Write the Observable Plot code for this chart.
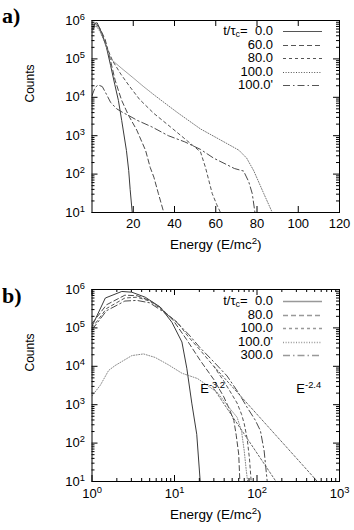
<!DOCTYPE html>
<html><head><meta charset="utf-8">
<script src="https://cdn.jsdelivr.net/npm/d3@7"></script>
<script src="https://cdn.jsdelivr.net/npm/@observablehq/plot@0.6"></script>
<style>
body{margin:0;background:#fff;}
#wrap{position:relative;width:354px;height:530px;font-family:"Liberation Sans",Arial,sans-serif;color:#000;}
.panel{position:absolute;left:0;}
.tag{position:absolute;font-family:"Liberation Serif","DejaVu Serif",serif;font-weight:bold;font-size:22px;line-height:1;}
.legend{position:absolute;font-size:13px;line-height:13.6px;}
.legend .row{position:relative;height:13.6px;white-space:nowrap;}
.legend .txt{position:absolute;right:0;width:120px;text-align:right;}
.legend svg{position:absolute;}
sub{font-size:9px;vertical-align:-2px;line-height:0;}
</style>
</head><body>
<div id="wrap">
  <div class="panel" id="pa" style="top:0"></div>
  <div class="panel" id="pb" style="top:260px"></div>
  <div class="tag" style="left:2px;top:5px">a)</div>
  <div class="tag" style="left:2px;top:285px">b)</div>
</div>
<script>
// ---------- Panel a data (linear energy axis) ----------
const aNames = ["0.0", "60.0", "80.0", "100.0", "100.0'"];
const aE0 = [0.5, 1.5, 2.5, 4.6, 7, 9, 11, 12.8, 14.4, 16.7, 17.8, 18.5, 19.5];
const aC0 = [6.6e5, 8.5e5, 8.7e5, 4.9e5, 2.0e5, 6.8e4, 2.2e4, 8.3e3, 2.5e3, 410, 123, 40, 10];
const aE1 = [0.5, 1.5, 2.5, 4, 6.4, 9, 11.2, 13, 14.4, 17.7, 21.7, 26, 28.2, 30, 32.2, 34.8];
const aC1 = [6.3e5, 8.3e5, 7.9e5, 6.0e5, 3.2e5, 8.9e4, 2.8e4, 1.4e4, 8.3e3, 3.4e3, 1.4e3, 410, 150, 83, 31, 10];
const aE2 = [0.5, 1.5, 2.5, 4, 6, 8, 10, 14, 18, 23, 30, 38, 45, 52.6, 55, 58.3, 60.5, 62.3];
const aC2 = [6.0e5, 7.9e5, 7.6e5, 5.6e5, 3.2e5, 1.6e5, 8.9e4, 4.0e4, 2.0e4, 8.9e3, 3.8e3, 1.7e3, 830, 380, 150, 31, 16, 10];
const aE3 = [0.5, 1.5, 2.5, 4, 6, 9, 14.5, 20, 25, 30.6, 38, 42, 52.6, 62, 71.2, 75, 78.4, 83.3, 87.4];
const aC3 = [5.6e5, 7.1e5, 6.8e5, 5.0e5, 2.8e5, 1.0e5, 5.6e4, 3.2e4, 1.9e4, 1.1e4, 5.5e3, 3.8e3, 1.5e3, 790, 420, 260, 123, 31, 10];
const aE4 = [0, 1.5, 3, 5, 7, 9, 12, 15, 18, 22, 29, 37, 45, 52.6, 59, 65, 69, 73.5, 76, 77.7, 79];
const aC4 = [1.1e4, 1.8e4, 2.1e4, 1.9e4, 1.2e4, 7.4e3, 5.0e3, 4.0e3, 3.3e3, 2.5e3, 1.7e3, 1.0e3, 690, 440, 260, 180, 140, 120, 63, 31, 10];

// ---------- Panel b data (log energy axis) ----------
const bNames = ["0.0", "80.0", "100.0", "100.0'", "300.0"];
const bE0 = [1.0, 1.45, 2.3, 3.04, 4.42, 6.7, 9.3, 12.3, 14.1, 16.2, 18.6, 20.5];
const bC0 = [1.1e5, 6.0e5, 8.9e5, 8.5e5, 6.3e5, 3.5e5, 1.4e5, 4.3e4, 8.9e3, 1.1e3, 170, 10];
const bE1 = [1.0, 1.5, 2.5, 3.5, 5, 7, 9.8, 14, 20.6, 30, 39.6, 46, 52.4, 56, 60, 62];
const bC1 = [1.3e5, 4.0e5, 7.1e5, 6.9e5, 5.2e5, 3.2e5, 1.5e5, 5.0e4, 1.4e4, 4.5e3, 1.6e3, 790, 390, 160, 52, 10];
const bE2 = [1.0, 1.5, 2.5, 3.5, 5, 7, 10.8, 15, 20, 29.9, 40, 57.4, 65, 70, 76, 81, 85];
const bC2 = [1.0e5, 3.2e5, 6.0e5, 6.3e5, 5.0e5, 3.0e5, 1.4e5, 5.6e4, 2.8e4, 1.0e4, 4.0e3, 1.1e3, 560, 320, 130, 40, 10];
const bE3 = [1.0, 1.26, 1.59, 1.91, 3.04, 4.21, 5.83, 8.4, 12.3, 19, 33, 47.7, 57.4, 65, 70, 74, 77];
const bC3 = [1.7e3, 3.2e3, 7.8e3, 1.05e4, 1.9e4, 2.1e4, 1.7e4, 1.1e4, 6.6e3, 4.8e3, 2.1e3, 760, 470, 200, 63, 20, 10];
const bE4 = [1.0, 1.5, 2.5, 3.5, 5, 7, 10, 15, 20, 30, 43.4, 60, 76, 95, 110, 122, 133];
const bC4 = [8.9e4, 2.8e5, 5.0e5, 5.2e5, 4.5e5, 2.8e5, 1.6e5, 6.6e4, 3.2e4, 1.3e4, 5.6e3, 2.0e3, 850, 400, 210, 63, 10];
// power-law guide lines (end points)
const fitNames = ["E^{-3.2}", "E^{-2.4}"];
const fitE = [[30, 170], [30, 540]];
const fitC = [[2.6e3, 10], [1.0e4, 10]];
const fitLabelE = [20.5, 300];
const fitLabelC = [2.6e3, 2.6e3];

// ---------- tick labels ----------
const yDecades = [10, 100, 1e3, 1e4, 1e5, 1e6];
const yTickText = ["10^{1}", "10^{2}", "10^{3}", "10^{4}", "10^{5}", "10^{6}"];
const aXTicks = [20, 40, 60, 80, 100, 120];
const bXDecades = [1, 10, 100, 1000];
const bXTickText = ["10^{0}", "10^{1}", "10^{2}", "10^{3}"];
const legendTitle = "t/τ";

const W = 354, ML = 91.5, MR = 15, PW = W - ML - MR, PH = 192;
const styles = [
  {stroke: "#3a3a3a", dash: null, w: 1},
  {stroke: "#4a4a4a", dash: "5,3", w: 1},
  {stroke: "#555", dash: "3,3", w: 1},
  {stroke: "#777", dash: "1,1.6", w: 1},
  {stroke: "#4a4a4a", dash: "7,3,1.5,3", w: 1}
];
const stylesB = [
  {stroke: "#3a3a3a", dash: null, w: 1},
  {stroke: "#4a4a4a", dash: "5,3", w: 1},
  {stroke: "#555", dash: "3,3", w: 1},
  {stroke: "#888", dash: "1,1.6", w: 1},
  {stroke: "#4a4a4a", dash: "7,3,1.5,3", w: 1}
];

function minorLog(decades) {
  const out = [];
  for (let i = 0; i < decades.length - 1; i++) for (let k = 2; k <= 9; k++) out.push(decades[i] * k);
  return out;
}
function rows(E, C) { return E.map((e, i) => ({E: e, C: C[i]})); }
function tickMarksY(vals, len) {
  return [
    Plot.tickY(vals, {y: d => d, insetRight: PW - len, stroke: "#000"}),
    Plot.tickY(vals, {y: d => d, insetLeft: PW - len, stroke: "#000"})
  ];
}
function tickMarksX(vals, len) {
  return [
    Plot.tickX(vals, {x: d => d, insetTop: PH - len, stroke: "#000"}),
    Plot.tickX(vals, {x: d => d, insetBottom: PH - len, stroke: "#000"})
  ];
}
function supify(svg) {
  const ns = "http://www.w3.org/2000/svg";
  svg.querySelectorAll("text").forEach(t => {
    const s = t.textContent;
    if (s.indexOf("^{") < 0) return;
    t.textContent = "";
    const re = /\^\{([^}]*)\}/g;
    let last = 0, m, shifted = false;
    while ((m = re.exec(s))) {
      if (m.index > last) {
        const a = document.createElementNS(ns, "tspan");
        a.textContent = s.slice(last, m.index);
        if (shifted) { a.setAttribute("dy", "5"); shifted = false; }
        t.appendChild(a);
      }
      const b = document.createElementNS(ns, "tspan");
      b.textContent = m[1];
      b.setAttribute("dy", "-5");
      b.setAttribute("font-size", "0.72em");
      t.appendChild(b);
      shifted = true;
      last = re.lastIndex;
    }
    if (last < s.length) {
      const c = document.createElementNS(ns, "tspan");
      c.textContent = s.slice(last);
      if (shifted) c.setAttribute("dy", "5");
      t.appendChild(c);
    }
  });
}
const yFmt = d => yTickText[yDecades.indexOf(d)];
const bxFmt = d => bXTickText[bXDecades.indexOf(d)];

// ---------- Panel a ----------
const aSeries = [[aE0, aC0], [aE1, aC1], [aE2, aC2], [aE3, aC3], [aE4, aC4]];
const plotA = Plot.plot({
  width: W, height: 260,
  marginLeft: ML, marginRight: MR, marginTop: 20, marginBottom: 48,
  style: {fontFamily: "Liberation Sans, Arial, sans-serif", fontSize: "13px", background: "#fff", color: "#000"},
  x: {domain: [0, 120], axis: null},
  y: {type: "log", domain: [10, 1e6], axis: null},
  marks: [
    ...aSeries.map(([E, C], i) => Plot.line(rows(E, C), {x: "E", y: "C", stroke: styles[i].stroke, strokeWidth: styles[i].w, strokeDasharray: styles[i].dash, clip: true})),
    ...tickMarksY(yDecades, 6),
    ...tickMarksY(minorLog(yDecades), 3),
    ...tickMarksX(aXTicks, 6),
    Plot.text(yDecades, {y: d => d, frameAnchor: "left", dx: -7, textAnchor: "end", text: yFmt, fontSize: 13}),
    Plot.text(aXTicks, {x: d => d, frameAnchor: "bottom", dy: 15, text: d => String(d), fontSize: 13}),
    Plot.text(["Energy (E/mc^{2})"], {frameAnchor: "bottom", dy: 36, fontSize: 13.5, text: d => d}),
    Plot.text(["Counts"], {frameAnchor: "left", dx: -62, dy: -14, rotate: -90, fontSize: 12, text: d => d}),
    Plot.frame({stroke: "#000"})
  ]
});
supify(plotA);
document.getElementById("pa").appendChild(plotA);

// ---------- Panel b ----------
const bSeries = [[bE0, bC0], [bE1, bC1], [bE2, bC2], [bE3, bC3], [bE4, bC4]];
const plotB = Plot.plot({
  width: W, height: 270,
  marginLeft: ML, marginRight: MR, marginTop: 29, marginBottom: 49,
  style: {fontFamily: "Liberation Sans, Arial, sans-serif", fontSize: "13px", background: "#fff", color: "#000"},
  x: {type: "log", domain: [1, 1000], axis: null},
  y: {type: "log", domain: [10, 1e6], axis: null},
  marks: [
    ...bSeries.map(([E, C], i) => Plot.line(rows(E, C), {x: "E", y: "C", stroke: stylesB[i].stroke, strokeWidth: stylesB[i].w, strokeDasharray: stylesB[i].dash, clip: true})),
    ...fitE.map((E, i) => Plot.line(rows(E, fitC[i]), {x: "E", y: "C", stroke: "#555", strokeWidth: 0.9, strokeDasharray: "2,2", clip: true})),
    Plot.text(fitNames, {x: (d, i) => fitLabelE[i], y: (d, i) => fitLabelC[i], text: d => d, textAnchor: "start", fontSize: 13}),
    ...tickMarksY(yDecades, 6),
    ...tickMarksY(minorLog(yDecades), 3),
    ...tickMarksX(bXDecades, 6),
    ...tickMarksX(minorLog(bXDecades), 3),
    Plot.text(yDecades, {y: d => d, frameAnchor: "left", dx: -7, textAnchor: "end", text: yFmt, fontSize: 13}),
    Plot.text(bXDecades, {x: d => d, frameAnchor: "bottom", dy: 16, text: bxFmt, fontSize: 13}),
    Plot.text(["Energy (E/mc^{2})"], {frameAnchor: "bottom", dy: 37, fontSize: 13.5, text: d => d}),
    Plot.text(["Counts"], {frameAnchor: "left", dx: -62, dy: -14, rotate: -90, fontSize: 12, text: d => d}),
    Plot.frame({stroke: "#000"})
  ]
});
supify(plotB);
document.getElementById("pb").appendChild(plotB);

// ---------- Legends ----------
function legend(names, st, top, sampleColor, sampleW) {
  const box = document.createElement("div");
  box.className = "legend";
  box.style.left = "150px";
  box.style.top = top + "px";
  box.style.width = "175px";
  names.forEach((n, i) => {
    const r = document.createElement("div");
    r.className = "row";
    const t = document.createElement("div");
    t.className = "txt";
    t.style.right = "52px";
    t.innerHTML = (i === 0 ? legendTitle + "<sub>c</sub>=&nbsp;&nbsp;" : "") + n;
    r.appendChild(t);
    const svg = document.createElementNS("http://www.w3.org/2000/svg", "svg");
    svg.setAttribute("width", "40"); svg.setAttribute("height", "14");
    svg.style.left = "133px"; svg.style.top = "0px";
    const ln = document.createElementNS("http://www.w3.org/2000/svg", "line");
    ln.setAttribute("x1", "0"); ln.setAttribute("x2", "39");
    ln.setAttribute("y1", "7.5"); ln.setAttribute("y2", "7.5");
    ln.setAttribute("stroke", sampleColor);
    ln.setAttribute("stroke-width", sampleW);
    if (st[i].dash) ln.setAttribute("stroke-dasharray", st[i].dash);
    svg.appendChild(ln);
    r.appendChild(svg);
    box.appendChild(r);
  });
  document.getElementById("wrap").appendChild(box);
}
legend(aNames, styles, 24, "#555", 1);
legend(bNames, stylesB, 294, "#999", 1.6);
</script>
</body></html>
